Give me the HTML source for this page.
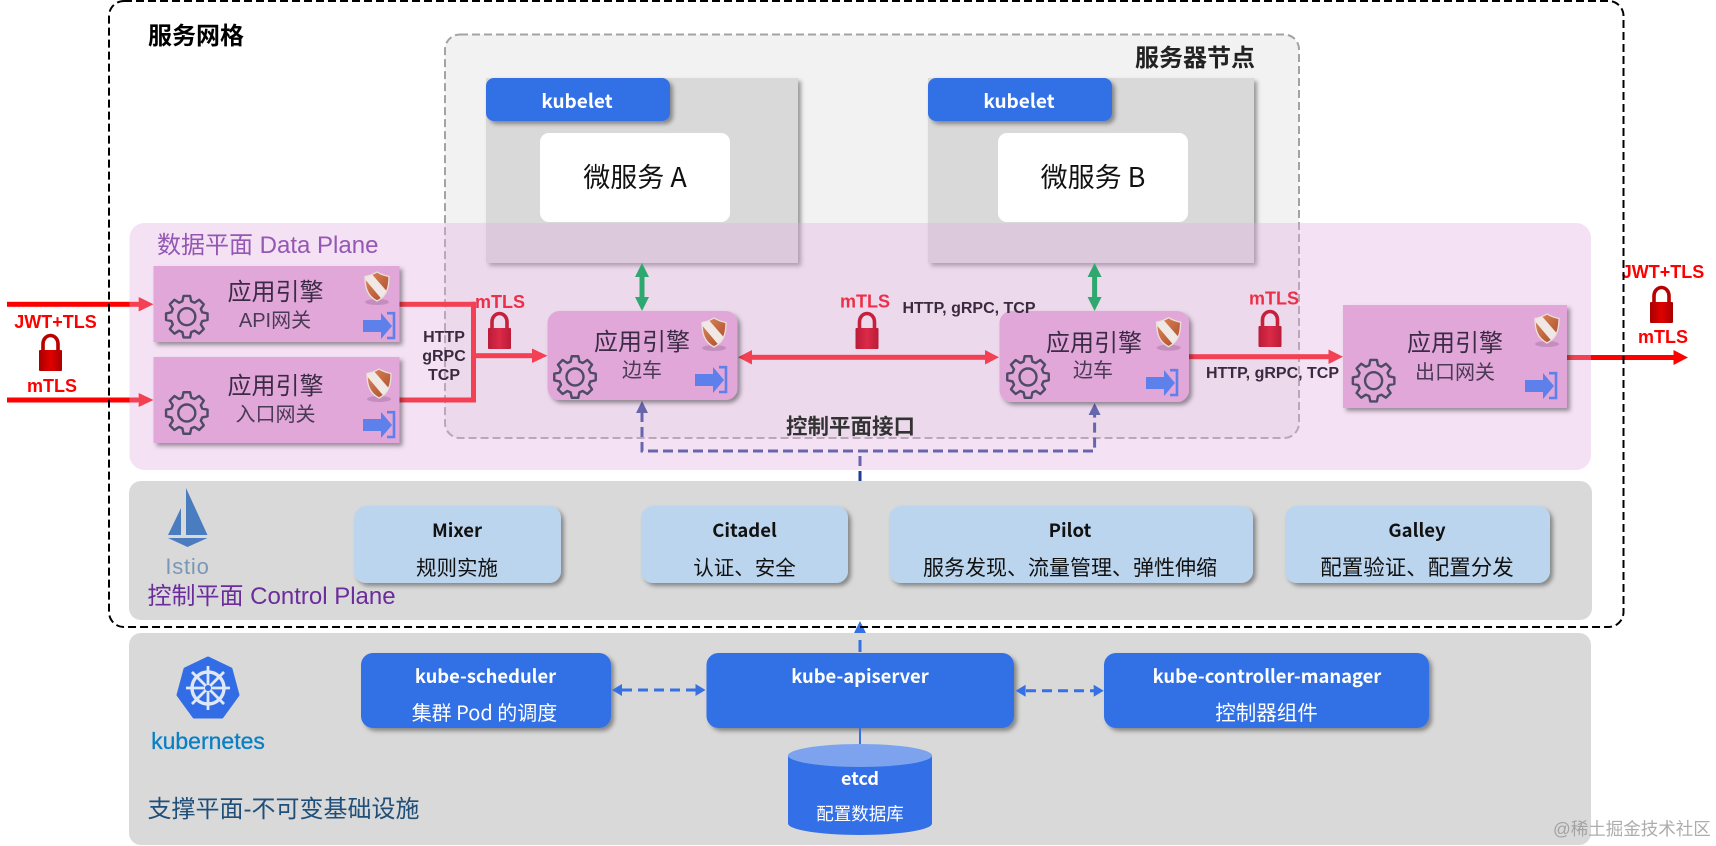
<!DOCTYPE html>
<html><head><meta charset="utf-8"><style>
html,body{margin:0;padding:0;background:#fff;width:1716px;height:846px;overflow:hidden}
svg{display:block}
text{font-family:"Liberation Sans","Noto Sans CJK SC",sans-serif}
.n{font-family:"Noto Sans CJK SC","Liberation Sans",sans-serif}
.m{text-anchor:middle}
.b{font-weight:700}
.t{font-size:24px;fill:#3b2b45;text-anchor:middle;font-family:"Noto Sans CJK SC",sans-serif}
.s{font-size:20px;fill:#4a3a55;text-anchor:middle;font-family:"Noto Sans CJK SC",sans-serif}
.r{font-size:18px;font-weight:700;fill:#f00;text-anchor:middle}
.r2{font-size:18px;font-weight:700;fill:#ee2f48;text-anchor:middle}
.h{font-size:16px;font-weight:700;fill:#3a2a3f;text-anchor:middle}
.w{font-family:"Noto Sans CJK SC",sans-serif;fill:#fff;text-anchor:middle}
.c{font-family:"Noto Sans CJK SC",sans-serif;fill:#111;text-anchor:middle}
</style></head><body>
<svg width="1716" height="846" viewBox="0 0 1716 846" xmlns="http://www.w3.org/2000/svg">
<defs>
<filter id="sh" x="-10%" y="-10%" width="125%" height="130%"><feDropShadow dx="3" dy="3" stdDeviation="2.2" flood-color="#000" flood-opacity=".38"/></filter>
<linearGradient id="lk" x1="0" y1="0" x2="1" y2="0"><stop offset="0" stop-color="#a80000"/><stop offset=".5" stop-color="#e00000"/><stop offset="1" stop-color="#a80000"/></linearGradient>
<linearGradient id="lk2" x1="0" y1="0" x2="1" y2="0"><stop offset="0" stop-color="#b91c38"/><stop offset=".5" stop-color="#dc2a48"/><stop offset="1" stop-color="#b91c38"/></linearGradient>
<linearGradient id="sg" x1="0" y1="0" x2="1" y2="1"><stop offset="0" stop-color="#e08a5a"/><stop offset="1" stop-color="#a8482a"/></linearGradient>
<clipPath id="sc"><path d="M0,-15C5,-12 9,-11 12,-10.5C12,0 10,9 0,14C-10,9 -12,0 -12,-10.5C-9,-11 -5,-12 0,-15Z"/></clipPath>
<g id="gear" fill="none" stroke="#4e4b66" stroke-width="2.4" stroke-linejoin="round">
<path d="M15.38,-4.41L20.74,-3.29L20.74,3.29L15.38,4.41L13.99,7.76L16.99,12.34L12.34,16.99L7.76,13.99L4.41,15.38L3.29,20.74L-3.29,20.74L-4.41,15.38L-7.76,13.99L-12.34,16.99L-16.99,12.34L-13.99,7.76L-15.38,4.41L-20.74,3.29L-20.74,-3.29L-15.38,-4.41L-13.99,-7.76L-16.99,-12.34L-12.34,-16.99L-7.76,-13.99L-4.41,-15.38L-3.29,-20.74L3.29,-20.74L4.41,-15.38L7.76,-13.99L12.34,-16.99L16.99,-12.34L13.99,-7.76Z"/>
<circle r="8.5"/>
</g>
<g id="shield">
<ellipse cx="0" cy="15" rx="12" ry="3" fill="#a070a0" opacity=".45"/>
<path d="M0,-15C5,-12 9,-11 12,-10.5C12,0 10,9 0,14C-10,9 -12,0 -12,-10.5C-9,-11 -5,-12 0,-15Z" fill="url(#sg)"/>
<g clip-path="url(#sc)"><polygon points="-14,-10 -7,-15 14,9 8,16" fill="#f0e8e4"/></g>
<path d="M0,-15C5,-12 9,-11 12,-10.5C12,0 10,9 0,14C-10,9 -12,0 -12,-10.5C-9,-11 -5,-12 0,-15Z" fill="none" stroke="#e9e2dc" stroke-width="1.3"/>
</g>
<g id="inout">
<polygon points="0,8 18,8 18,1 29,14 18,27 18,20 0,20" fill="#5d80ea"/>
<path d="M24,1.2H31V26H24" fill="none" stroke="#5d80ea" stroke-width="2.6"/>
</g>
<g id="lockA"><path d="M4,17V10a7.5,8.5 0 0 1 15,0V17" fill="none" stroke="#b80000" stroke-width="3.6"/><rect x="0" y="16" width="23" height="21" rx="1" fill="url(#lk)"/></g>
<g id="lockB"><path d="M4,17V10a7.5,8.5 0 0 1 15,0V17" fill="none" stroke="#c5203c" stroke-width="3.6"/><rect x="0" y="16" width="23" height="21" rx="1" fill="url(#lk2)"/></g>
</defs>

<!-- server node -->
<rect x="445" y="34.5" width="854" height="403.5" rx="15" fill="#f2f2f2" stroke="#a3a3a3" stroke-width="2" stroke-dasharray="8 4"/>
<rect x="486" y="78" width="312" height="185" fill="#d9d9d9" filter="url(#sh)"/>
<rect x="928" y="78" width="326" height="185" fill="#d9d9d9" filter="url(#sh)"/>
<rect x="486" y="78" width="184" height="43" rx="8" fill="#336fe6" filter="url(#sh)"/>
<rect x="928" y="78" width="184" height="43" rx="8" fill="#336fe6" filter="url(#sh)"/>
<rect x="540" y="133" width="190" height="89" rx="9" fill="#fff"/>
<rect x="998" y="133" width="190" height="89" rx="9" fill="#fff"/>
<text x="577" y="108" class="w b" font-size="19">kubelet</text>
<text x="1019" y="108" class="w b" font-size="19">kubelet</text>
<text x="635" y="187" class="c" font-size="27">微服务 A</text>
<text x="1093" y="187" class="c" font-size="27">微服务 B</text>
<text x="1195" y="66" class="n m b" font-size="24" fill="#222">服务器节点</text>

<!-- red arrows under panel -->
<g fill="#ff0000">
<rect x="7" y="301.8" width="133" height="5"/><polygon points="138.7,297 153.5,304.3 138.7,311.5"/>
<rect x="7" y="397.5" width="133" height="5"/><polygon points="138.7,393 153.5,400 138.7,407"/>
<rect x="399" y="301.8" width="76" height="5"/>
<rect x="399" y="397.5" width="76" height="5"/>
<rect x="471" y="301.8" width="5" height="100.7"/>
<rect x="474" y="353.2" width="60" height="5"/><polygon points="532,348.5 547.5,355.7 532,363"/>
<rect x="750" y="354.8" width="236" height="5"/>
<polygon points="752,350 738,357.3 752,364.5"/><polygon points="985,350 999,357.3 985,364.5"/>
<rect x="1188" y="354.2" width="142" height="5"/><polygon points="1328.5,349.5 1343,356.7 1328.5,364"/>
<rect x="1566" y="355" width="109" height="5"/><polygon points="1673.5,350 1688,357.5 1673.5,365"/>
</g>
<!-- blue dashed under panel -->
<g fill="none" stroke="#1f3d8f" stroke-width="3">
<path d="M642,412V451H1094.6V414" stroke-dasharray="10 5"/>
<path d="M860,481V451" stroke-dasharray="10 5"/>
</g>
<g fill="#1f3d8f"><polygon points="642,401 636,413 648,413"/><polygon points="1094.6,403 1088.6,415 1100.6,415"/></g>

<!-- data plane panel -->
<rect x="129.5" y="223" width="1461.5" height="247" rx="15" fill="#e1aee1" fill-opacity=".37"/>
<text x="157" y="253" font-size="24" fill="#9457b3">数据平面 Data Plane</text>

<!-- engine boxes -->
<rect x="153.5" y="266" width="246" height="76" fill="#e0a7d8" filter="url(#sh)"/>
<rect x="153.5" y="357" width="246" height="86" fill="#e0a7d8" filter="url(#sh)"/>
<rect x="547.5" y="311" width="190" height="89" rx="12" fill="#e0a7d8" filter="url(#sh)"/>
<rect x="999.5" y="311" width="189.5" height="91" rx="12" fill="#e0a7d8" filter="url(#sh)"/>
<rect x="1343" y="305" width="224" height="103" fill="#e0a7d8" filter="url(#sh)"/>

<text x="275.5" y="300" class="t">应用引擎</text><text x="275" y="327" class="s"><tspan font-family="Liberation Sans">API</tspan>网关</text>
<text x="275.5" y="394" class="t">应用引擎</text><text x="275.5" y="421" class="s">入口网关</text>
<text x="642" y="350" class="t">应用引擎</text><text x="642" y="377" class="s">边车</text>
<text x="1094" y="351" class="t">应用引擎</text><text x="1093" y="377" class="s">边车</text>
<text x="1455" y="351" class="t">应用引擎</text><text x="1455" y="379" class="s">出口网关</text>

<use href="#gear" x="186.8" y="316.7"/><use href="#gear" x="186.8" y="413"/><use href="#gear" x="575" y="377"/><use href="#gear" x="1028" y="377"/><use href="#gear" x="1373.6" y="380.7"/>
<use href="#shield" x="377" y="287"/><use href="#shield" x="379" y="384"/><use href="#shield" x="714" y="333"/><use href="#shield" x="1168.6" y="332.7"/><use href="#shield" x="1547" y="329"/>
<use href="#inout" x="363" y="312"/><use href="#inout" x="363" y="411"/><use href="#inout" x="695" y="366"/><use href="#inout" x="1146" y="369"/><use href="#inout" x="1525" y="372"/>

<!-- green arrows -->
<g fill="#2fa86f">
<rect x="639.5" y="272" width="5" height="30"/><polygon points="642,263 635,277 649,277"/><polygon points="642,311 635,297 649,297"/>
<rect x="1092.1" y="272" width="5" height="30"/><polygon points="1094.6,263 1087.6,277 1101.6,277"/><polygon points="1094.6,311 1087.6,297 1101.6,297"/>
</g>

<!-- labels & locks -->
<text x="55.5" y="328" class="r">JWT+TLS</text>
<use href="#lockA" x="39" y="334"/>
<text x="52" y="392" class="r">mTLS</text>
<text x="1663" y="278" class="r">JWT+TLS</text>
<use href="#lockA" x="1650" y="286"/>
<text x="1663" y="343" class="r">mTLS</text>
<text x="500" y="308" class="r2">mTLS</text><use href="#lockB" x="488" y="312"/>
<text x="865" y="307.5" class="r2">mTLS</text><use href="#lockB" x="855.5" y="312"/>
<text x="1274" y="304.5" class="r2">mTLS</text><use href="#lockB" x="1258.5" y="310"/>
<text x="444" y="342" class="h">HTTP</text><text x="444" y="361" class="h">gRPC</text><text x="444" y="380" class="h">TCP</text>
<text x="969" y="313" class="h">HTTP, gRPC, TCP</text>
<text x="1272.5" y="378" class="h">HTTP, gRPC, TCP</text>
<text x="850.5" y="434" class="n m b" font-size="21.5" fill="#333">控制平面接口</text>

<!-- control plane -->
<rect x="129" y="481" width="1463" height="139" rx="12" fill="#d9d9d9"/>
<g fill="#4a7cc0"><polygon points="186,488 207.5,535 186,535"/><polygon points="181,508 181,535 168,535"/><polygon points="168,538 207.5,538 187.5,547"/></g>
<text x="187.5" y="574" class="m" font-size="22" letter-spacing=".8" fill="#7a97b5">Istio</text>
<text x="147.5" y="604" font-size="24" fill="#6b2c9c">控制平面 Control Plane</text>
<g fill="#bcd5ee" filter="url(#sh)">
<rect x="354" y="506" width="207" height="77" rx="12"/>
<rect x="641" y="506" width="207" height="77" rx="12"/>
<rect x="889" y="506" width="364" height="77" rx="12"/>
<rect x="1285" y="506" width="265" height="77" rx="12"/>
</g>
<text x="457" y="537" class="c b" font-size="18.5">Mixer</text>
<text x="744.5" y="537" class="c b" font-size="18.5">Citadel</text>
<text x="1070" y="537" class="c b" font-size="18.5">Pilot</text>
<text x="1417" y="537" class="c b" font-size="18.5">Galley</text>
<text x="457" y="575" class="c" font-size="20.5" fill="#222">规则实施</text>
<text x="744.5" y="575" class="c" font-size="20.5" fill="#222">认证、安全</text>
<text x="1070" y="575" class="c" font-size="21" fill="#222">服务发现、流量管理、弹性伸缩</text>
<text x="1417" y="575" class="c" font-size="21.5" fill="#222">配置验证、配置分发</text>

<!-- support plane -->
<rect x="129" y="633" width="1462" height="212" rx="12" fill="#d9d9d9"/>
<polygon points="208,658 231,669 238,695 222,717 194,717 178,695 185,669" fill="#326de6" stroke="#326de6" stroke-width="3" stroke-linejoin="round"/>
<g fill="none" stroke="#dfe7f8">
<circle cx="208" cy="688" r="16" stroke-width="3.4"/>
<path d="M208,666V710M186,688H230M192,672L224,704M224,672L192,704" stroke-width="2.8"/>
</g>
<circle cx="208" cy="688" r="3" fill="#326de6"/>
<text x="208" y="749" class="m" font-size="23" fill="#0a7fc4" stroke="#0a7fc4" stroke-width=".3">kubernetes</text>
<text x="147.5" y="817" font-size="24" fill="#1f4e79">支撑平面-不可变基础设施</text>

<g fill="#336fe6" filter="url(#sh)">
<rect x="361" y="653" width="250" height="75" rx="12"/>
<rect x="706.5" y="653" width="307.5" height="75" rx="12"/>
<rect x="1104" y="653" width="325" height="75" rx="12"/>
</g>
<text x="485.5" y="683" class="w b" font-size="18.4">kube-scheduler</text>
<text x="484.5" y="720" class="w" font-size="20">集群 Pod 的调度</text>
<text x="860" y="683" class="w b" font-size="18.4">kube-apiserver</text>
<text x="1267" y="683" class="w b" font-size="18.4">kube-controller-manager</text>
<text x="1266.5" y="720" class="w" font-size="20.5">控制器组件</text>

<g stroke="#3570e5" stroke-width="3" fill="none">
<path d="M622,690H696" stroke-dasharray="10 6"/>
<path d="M1026,690.7H1094" stroke-dasharray="10 6"/>
<path d="M860,652V640"/>
<path d="M860,728V746" stroke-width="2"/>
</g>
<g fill="#3570e5">
<polygon points="612,690 622,684 622,696"/><polygon points="705.5,690 695.5,684 695.5,696"/>
<polygon points="1015.6,690.7 1025.6,684.7 1025.6,696.7"/><polygon points="1103.7,690.7 1093.7,684.7 1093.7,696.7"/>
<polygon points="860,621 854,633 866,633"/>
</g>

<path d="M788,755.5V823.5A72,11.5 0 0 0 932,823.5V755.5Z" fill="#336fe6"/>
<ellipse cx="860" cy="755.5" rx="72" ry="11.5" fill="#7da3ee"/>
<text x="860" y="785" class="w b" font-size="18">etcd</text>
<text x="860" y="820" class="w" font-size="17.5">配置数据库</text>

<!-- outer dashed -->
<rect x="109" y="1" width="1514.5" height="626" rx="15" fill="none" stroke="#000" stroke-width="2" stroke-dasharray="8 4"/>
<text x="148" y="44" class="n b" font-size="24" fill="#000">服务网格</text>

<text x="1553" y="835" font-size="17.5" fill="#8a8a8a" fill-opacity=".7">@稀土掘金技术社区</text>
</svg>
</body></html>
